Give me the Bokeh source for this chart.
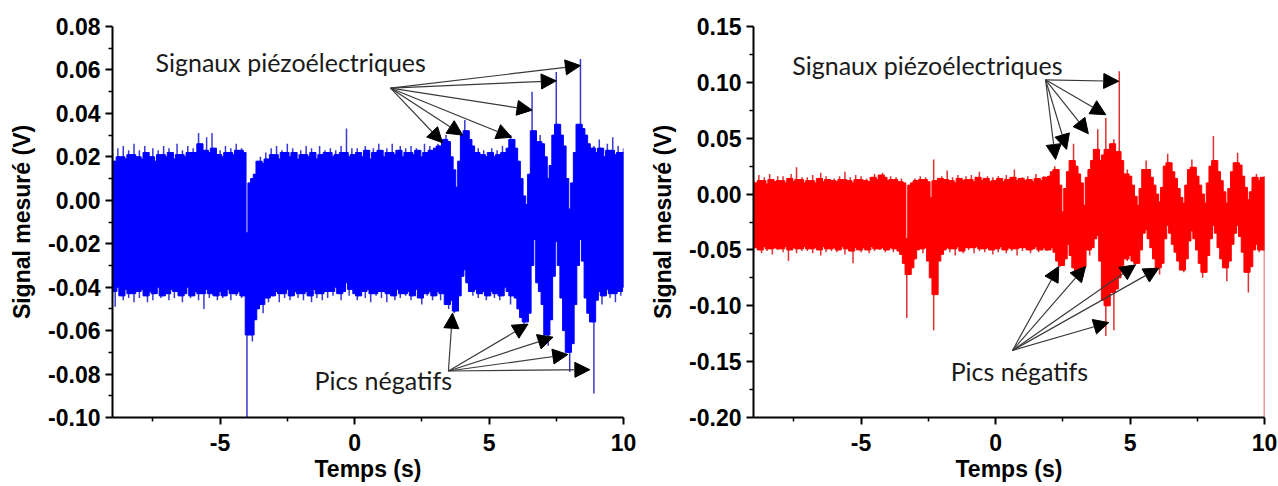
from bokeh.plotting import figure
from bokeh.layouts import row
from bokeh.models import (Arrow, NormalHead, Label, FixedTicker,
                          NumeralTickFormatter, Range1d, ColumnDataSource)
from bokeh.embed import file_html
from bokeh.resources import INLINE

# ---------------- data ----------------
# sample times every 0.1 s from -9 s to 10 s
time_s = [round(-9.0 + 0.1 * i, 1) for i in range(191)]

# left panel (blue): upper / lower envelope of the measured signal, in mV
blue_hi_mV = [
    22, 18, 24, 20, 25, 19, 23, 21, 26, 20,
    23, 19, 25, 22, 20, 24, 18, 23, 21, 25,
    20, 24, 22, 19, 26, 21, 23, 20, 25, 22,
    24, 22, 31, 26, 23, 29, 22, 31, 24, 21,
    23, 20, 25, 22, 24, 21, 26, 23, 24, 22,
    -15, 8, 10, 12, 18, 20, 17, 22, 19, 24,
    21, 25, 19, 23, 22, 26, 20, 24, 22, 19,
    23, 21, 25, 20, 24, 22, 19, 25, 21, 23,
    22, 24, 20, 23, 21, 25, 22, 33, 20, 24,
    21, 24, 22, 20, 25, 23, 19, 24, 22, 26,
    23, 20, 24, 22, 26, 21, 23, 25, 20, 24,
    22, 25, 21, 24, 23, 20, 26, 22, 25, 23,
    24, 26, 25, 28, 30, 27, 20, 14, 6, 18,
    30, 37, 32, 28, 25, 22, 24, 21, 23, 20,
    22, 24, 20, 23, 21, 25, 22, 24, 30, 28,
    24, 18, 10, 2, -2, 12, 50, 32, 27, 30,
    26, 20, 10, 16, 30, 59, 35, 30, 25, 10,
    -4, 8, 22, 35, 65, 33, 30, 26, 24, 25,
    22, 28, 24, 20, 26, 23, 29, 21, 25, 22, 24,
]
blue_lo_mV = [
    -42, -49, -40, -44, -46, -41, -45, -43, -47, -42,
    -45, -41, -44, -47, -42, -46, -43, -40, -45, -44,
    -43, -46, -41, -45, -42, -44, -47, -43, -40, -45,
    -44, -42, -46, -43, -50, -41, -45, -43, -44, -46,
    -42, -45, -44, -41, -46, -43, -44, -42, -45, -44,
    -100, -62, -65, -55, -50, -48, -52, -45, -47, -44,
    -44, -42, -47, -43, -45, -41, -46, -44, -42, -45,
    -43, -46, -42, -44, -47, -41, -45, -43, -46, -42,
    -45, -42, -44, -40, -43, -46, -42, -38, -44, -41,
    -43, -46, -44, -42, -45, -41, -47, -43, -44, -42,
    -45, -42, -47, -43, -44, -46, -41, -45, -43, -44,
    -42, -46, -44, -41, -45, -48, -43, -44, -42, -46,
    -44, -42, -46, -43, -48, -50, -46, -52, -51, -44,
    -35, -32, -38, -42, -44, -41, -45, -43, -42, -46,
    -44, -42, -45, -43, -46, -44, -40, -42, -48, -44,
    -45, -50, -54, -57, -56, -52, -30, -18, -38, -42,
    -48, -62, -67, -55, -35, -19, -30, -45, -60, -70,
    -79, -66, -48, -30, -18, -28, -45, -52, -56, -89,
    -46, -42, -48, -44, -41, -45, -43, -47, -42, -44, -40,
]

# right panel (red): upper / lower envelope of the measured signal, in mV
red_hi_mV = [
    14, 10, 17, 12, 15, 9, 18, 13, 11, 16,
    12, 16, 10, 14, 18, 11, 24, 13, 15, 10,
    15, 12, 17, 10, 14, 19, 11, 16, 13, 12,
    14, 11, 16, 13, 20, 12, 15, 10, 17, 13,
    16, 12, 14, 11, 15, 18, 13, 17, 19, 15,
    12, 16, 13, 15, 11, 14, 10, -40, 8, 10,
    14, 12, 16, 13, 15, 11, -3, 31, 12, 14,
    16, 13, 21, 12, 15, 10, 17, 14, 12, 16,
    13, 17, 11, 15, 20, 12, 14, 16, 11, 15,
    12, 16, 14, 11, 17, 13, 15, 22, 12, 14,
    15, 12, 16, 13, 11, 18, 14, 12, 16, 15,
    16, 20, 25, 22, 8, -16, 5, 20, 30, 45,
    25, 18, 10, -10, 15, 22, 30, 40, 58, 30,
    35, 68, 40, 45, 49, 38, 110, 30, 18, 22,
    16, 8, -2, -10, 5, 22, 30, 22, 15, 8,
    0, -7, 6, 25, 36, 28, 20, 14, 5, -3,
    -8, 8, 22, 31, 24, 16, 8, 0, -8, 10,
    25, 52, 30, 20, 12, 2, -8, 5, 20, 28,
    37, 26, 16, 6, -5, 2, 15, 18, 12, 15, 16,
]
red_lo_mV = [
    -55, -48, -50, -53, -47, -51, -49, -54, -48, -50,
    -49, -52, -47, -60, -50, -48, -53, -49, -51, -47,
    -51, -49, -53, -48, -50, -55, -47, -52, -49, -51,
    -48, -52, -50, -47, -54, -49, -51, -62, -48, -50,
    -52, -48, -50, -53, -47, -51, -49, -50, -48, -52,
    -50, -48, -52, -49, -51, -54, -62, -111, -72, -66,
    -58, -50, -49, -53, -48, -60, -75, -122, -90, -60,
    -54, -50, -48, -52, -49, -55, -47, -51, -53, -48,
    -50, -48, -53, -47, -51, -49, -52, -48, -50, -54,
    -49, -52, -47, -50, -53, -48, -51, -49, -55, -48,
    -51, -48, -50, -53, -49, -47, -52, -50, -48, -51,
    -50, -48, -52, -60, -65, -64, -58, -45, -55, -66,
    -70, -74, -78, -65, -50, -55, -48, -40, -37, -60,
    -95, -127, -100, -88, -122, -85, -75, -66, -58, -60,
    -55, -60, -64, -62, -50, -35, -32, -40, -48, -58,
    -66, -72, -62, -40, -28, -35, -45, -52, -60, -68,
    -70, -58, -42, -33, -40, -50, -62, -75, -70, -55,
    -40, -28, -35, -48, -58, -66, -78, -60, -45, -35,
    -28, -38, -52, -70, -88, -65, -50, -45, -52, -50, -200,
]

x_ticks = [-5, 0, 5, 10]
x_minor = [-7.5, -2.5, 2.5, 7.5]
left_y_ticks = [-0.10, -0.08, -0.06, -0.04, -0.02, 0.00, 0.02, 0.04, 0.06, 0.08]
left_y_minor = [-0.09, -0.07, -0.05, -0.03, -0.01, 0.01, 0.03, 0.05, 0.07]
right_y_ticks = [-0.20, -0.15, -0.10, -0.05, 0.00, 0.05, 0.10, 0.15]
right_y_minor = [-0.175, -0.125, -0.075, -0.025, 0.025, 0.075, 0.125]

x_title = "Temps (s)"
y_title = "Signal mesuré (V)"
label_top = "Signaux piézoélectriques"
label_bottom = "Pics négatifs"

TICK_FONT = "Liberation Sans"
NOTE_FONT = "Lato"


def panel(hi_mV, lo_mV, color, fringe, yr, yticks, yminor, width, bl, br, notes):
    p = figure(width=width, height=484, output_backend="svg", toolbar_location=None,
               x_range=Range1d(-9, 10), y_range=Range1d(*yr),
               min_border_left=bl, min_border_right=br,
               min_border_top=26, min_border_bottom=64,
               background_fill_color="white", border_fill_color="white")
    p.outline_line_color = None
    p.xgrid.visible = False
    p.ygrid.visible = False

    n = len(time_s)
    hi = [v / 1000 for v in hi_mV]
    lo = [v / 1000 for v in lo_mV]
    # solid body of the trace: isolated outward spikes stay thin lines,
    # isolated inward notches are kept in the body
    core_hi, core_lo = [], []
    for i in range(n):
        nb_hi = [hi[j] for j in (i - 1, i + 1) if 0 <= j < n]
        nb_lo = [lo[j] for j in (i - 1, i + 1) if 0 <= j < n]
        core_hi.append(min(hi[i], max(nb_hi)))
        core_lo.append(max(lo[i], min(nb_lo)))
    src = ColumnDataSource(dict(t=time_s, hi=hi, lo=lo,
                                left=[t - 0.065 for t in time_s],
                                right=[t + 0.065 for t in time_s],
                                chi=core_hi, clo=core_lo))
    p.segment(x0="t", y0="lo", x1="t", y1="hi", source=src,
              line_color=fringe, line_width=1.5)
    p.quad(left="left", right="right", bottom="clo", top="chi", source=src,
           fill_color=color, line_color=color, line_width=1)

    p.xaxis.ticker = FixedTicker(ticks=x_ticks, minor_ticks=x_minor)
    p.yaxis.ticker = FixedTicker(ticks=yticks, minor_ticks=yminor)
    p.xaxis.formatter = NumeralTickFormatter(format="0")
    p.yaxis.formatter = NumeralTickFormatter(format="0.00")
    p.xaxis.axis_label = x_title
    p.yaxis.axis_label = y_title
    for ax in (p.xaxis[0], p.yaxis[0]):
        ax.axis_line_width = 2
        ax.axis_line_color = "black"
        ax.major_tick_line_width = 2
        ax.minor_tick_line_width = 1.5
        ax.major_tick_line_color = "black"
        ax.minor_tick_line_color = "black"
        ax.major_tick_in = 0
        ax.major_tick_out = 7
        ax.minor_tick_in = 0
        ax.minor_tick_out = 4
        ax.major_label_text_font = TICK_FONT
        ax.major_label_text_font_style = "bold"
        ax.major_label_text_font_size = "23px"
        ax.major_label_text_color = "black"
        ax.axis_label_text_font = TICK_FONT
        ax.axis_label_text_font_style = "bold"
        ax.axis_label_text_font_size = "23px"
        ax.axis_label_text_color = "black"
    p.xaxis.major_label_standoff = 9
    p.xaxis.axis_label_standoff = 2
    p.yaxis.major_label_standoff = 5
    p.yaxis.axis_label_standoff = 10

    (top_xy, top_origin, top_tips, bot_xy, bot_origin, bot_tips) = notes
    for origin, tips in ((top_origin, top_tips), (bot_origin, bot_tips)):
        for tip in tips:
            p.add_layout(Arrow(x_start=origin[0], y_start=origin[1],
                               x_end=tip[0], y_end=tip[1], line_color="#3a3a3a",
                               line_width=1.2,
                               end=NormalHead(size=15, fill_color="black",
                                              line_color="black", line_width=1)))
    for xy, txt in ((top_xy, label_top), (bot_xy, label_bottom)):
        p.add_layout(Label(x=xy[0], y=xy[1], text=txt,
                           text_font=NOTE_FONT, text_font_size="25px",
                           text_color="#1a1a1a", text_baseline="middle",
                           text_align="left"))
    return p


left_notes = ((-7.40, 0.0635), (1.34, 0.0516),
              [(3.27, 0.0265), (4.02, 0.030), (5.84, 0.029),
               (6.6, 0.0415), (7.5, 0.055), (8.4, 0.062)],
              (-1.49, -0.0826), (3.49, -0.0786),
              [(3.64, -0.052), (6.45, -0.057), (7.38, -0.063),
               (7.93, -0.071), (8.75, -0.078)])
right_notes = ((-7.56, 0.1157), (1.86, 0.1023),
               [(2.23, 0.031), (2.64, 0.040), (3.45, 0.054),
                (4.10, 0.071), (4.58, 0.101)],
               (-1.67, -0.158), (0.63, -0.140),
               [(2.35, -0.0648), (3.35, -0.0648), (4.21, -0.115),
                (5.20, -0.0634), (6.07, -0.0663)])

p1 = panel(blue_hi_mV, blue_lo_mV, "#0000ff", "#3a3ad2", (-0.10, 0.08),
           left_y_ticks, left_y_minor, 638, 112, 15, left_notes)
p2 = panel(red_hi_mV, red_lo_mV, "#ff0000", "#e03030", (-0.20, 0.15),
           right_y_ticks, right_y_minor, 640, 115, 14, right_notes)

layout = row(p1, p2)
open("out.html", "w").write(file_html(layout, INLINE))
